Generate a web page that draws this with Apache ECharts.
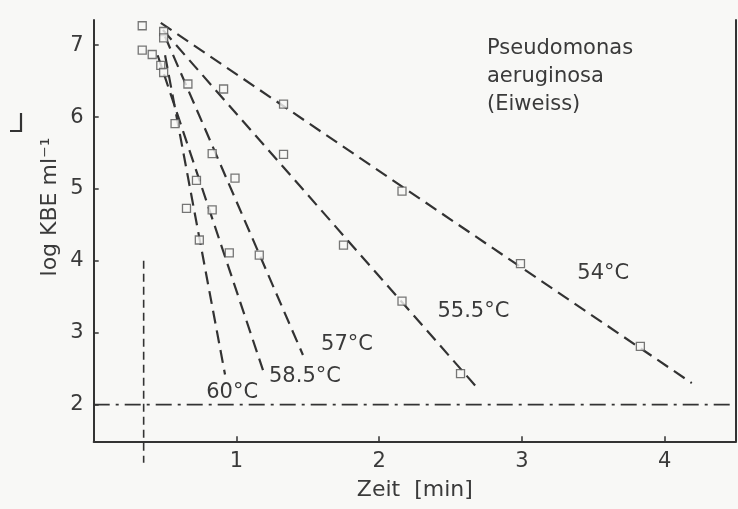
<!DOCTYPE html>
<html>
<head>
<meta charset="utf-8">
<script src="https://cdn.jsdelivr.net/npm/echarts@6/dist/echarts.min.js"></script>
<style>
html,body{margin:0;padding:0;background:#f8f8f6;}
#chart{width:738px;height:509px;}
</style>
</head>
<body>
<div id="chart"></div>
<script>
// Measured data points (Zeit [min], log KBE ml^-1)
const points = [
  [0.34,7.27],[0.34,6.93],[0.41,6.87],[0.47,6.72],[0.49,6.62],[0.49,7.19],[0.49,7.10],
  [0.66,6.46],[0.91,6.39],[1.33,6.18],[0.57,5.91],[0.83,5.49],[1.33,5.48],[0.72,5.12],
  [0.99,5.15],[0.65,4.73],[0.83,4.71],[0.74,4.29],[0.95,4.11],[1.16,4.08],[2.16,4.97],
  [1.75,4.22],[2.99,3.96],[2.16,3.44],[3.83,2.81],[2.57,2.43]
];
// Fitted survival lines (start, end)
const temps = ['54°C','55.5°C','57°C','58.5°C','60°C'];
const line54  = [[0.47,7.31],[4.19,2.30]];
const line555 = [[0.485,7.21],[2.68,2.25]];
const line57  = [[0.50,7.12],[1.466,2.69]];
const line585 = [[0.448,6.86],[1.186,2.48]];
const line60  = [[0.50,6.86],[0.92,2.42]];
const thresholdLevel = 2;      // log KBE limit (dash-dot)
const lagTime = 0.35;          // vertical dashed marker
const xTicks = [1,2,3,4];
const yTicks = [2,3,4,5,6,7];

const INK = '#333';
const TXT = '#3a3a3a';
const FONT = 'DejaVu Sans';
const lines = [line54, line555, line57, line585, line60];
const labelAt = [[3.57,3.83],[2.66,3.29],[1.775,2.83],[1.48,2.39],[0.97,2.17]];

const series = [];
lines.forEach((d,i)=>{
  series.push({
    type:'line', name:temps[i], data:d, symbol:'none', silent:true,
    lineStyle:{color:INK, width:2.2, type:[13,7]},
    markPoint:{
      symbol:'circle', symbolSize:1, itemStyle:{color:'rgba(0,0,0,0)'},
      label:{show:true, position:'inside', formatter:temps[i], color:TXT,
             fontFamily:FONT, fontSize:21},
      data:[{coord:labelAt[i]}]
    }
  });
});
series.push({
  type:'line', data:[[0,thresholdLevel],[4.5,thresholdLevel]], symbol:'none',
  lineStyle:{color:INK, width:1.6, type:[16,6,3,6]}
});
series.push({
  type:'line', data:[[lagTime,4],[lagTime,1.19]], symbol:'none', clip:false,
  lineStyle:{color:INK, width:1.6, type:[8,5]}
});
series.push({
  type:'scatter', data:points, symbol:'rect', symbolSize:8,
  itemStyle:{color:'#f8f8f6', borderColor:'#555', borderWidth:1.3}, z:5
});

const chart = echarts.init(document.getElementById('chart'));
chart.setOption({
  backgroundColor:'#f8f8f6',
  animation:false,
  grid:{left:93.7, right:2, top:20, bottom:67.7},
  xAxis:{
    type:'value', min:0, max:4.5,
    axisLine:{show:true, lineStyle:{color:INK, width:2}},
    axisTick:{show:true, inside:true, length:5, customValues:xTicks, lineStyle:{color:INK, width:1.5}},
    axisLabel:{customValues:xTicks, color:TXT, fontFamily:FONT, fontSize:21, margin:10},
    splitLine:{show:false},
    name:'Zeit  [min]', nameLocation:'middle', nameGap:38,
    nameTextStyle:{color:TXT, fontFamily:FONT, fontSize:22}
  },
  yAxis:[{
    type:'value', min:1.49, max:7.35,
    axisLine:{show:true, lineStyle:{color:INK, width:2}},
    axisTick:{show:true, inside:true, length:5, customValues:yTicks, lineStyle:{color:INK, width:1.5}},
    axisLabel:{customValues:yTicks, color:TXT, fontFamily:FONT, fontSize:21, margin:10},
    splitLine:{show:false}
  },{
    type:'value', min:1.49, max:7.35, position:'right',
    axisLine:{show:true, lineStyle:{color:INK, width:2}},
    axisTick:{show:false}, axisLabel:{show:false}, splitLine:{show:false}
  }],
  series:series,
  graphic:[
    {type:'text', x:50, y:207, rotation:Math.PI/2,
     style:{text:'log KBE ml⁻¹', fill:TXT, font:'22px "DejaVu Sans"', align:'center', verticalAlign:'middle'}},
    {type:'polyline', shape:{points:[[10,131],[21,131],[21,113]]},
     style:{stroke:INK, lineWidth:2.2, fill:null}},
    {type:'text', x:487, y:77,
     style:{text:'Pseudomonas\naeruginosa\n(Eiweiss)', fill:TXT, font:'21px "DejaVu Sans"', lineHeight:28, align:'left', verticalAlign:'middle'}}
  ]
});
</script>
</body>
</html>
